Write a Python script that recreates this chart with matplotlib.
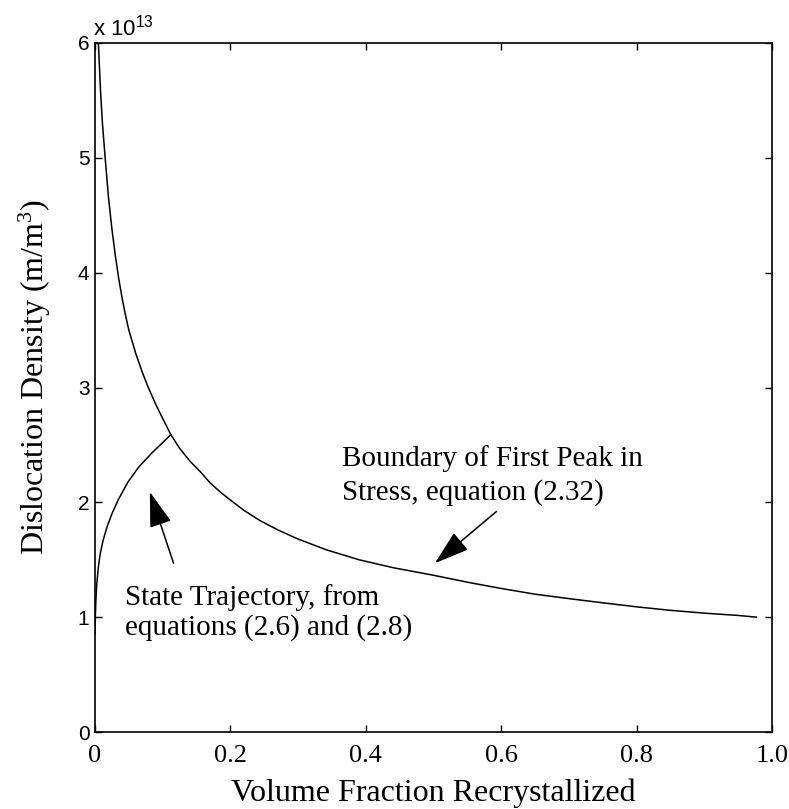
import matplotlib
matplotlib.use("Agg")
import matplotlib.pyplot as plt

plt.rcParams['mathtext.default'] = 'regular'

serif = 'Liberation Serif'
sans = 'Liberation Sans'

# boundary of first peak in stress (x = volume fraction, y in units of 1e13 m/m^3)
bound_x = [0.005, 0.008, 0.011, 0.015, 0.02, 0.025, 0.03, 0.035, 0.04, 0.045, 0.05, 0.06,
           0.07, 0.078, 0.09, 0.1, 0.112, 0.125, 0.14, 0.155, 0.17, 0.185, 0.2, 0.22,
           0.244, 0.27, 0.3, 0.342, 0.39, 0.441, 0.5, 0.554, 0.6, 0.65, 0.702, 0.75,
           0.8, 0.849, 0.9, 0.95, 0.977]
bound_y = [6.0, 5.6, 5.3, 5.0, 4.65, 4.38, 4.15, 3.95, 3.78, 3.63, 3.5, 3.3,
           3.13, 3.01, 2.85, 2.73, 2.59, 2.47, 2.36, 2.27, 2.17, 2.09, 2.02, 1.93,
           1.84, 1.76, 1.68, 1.586, 1.5, 1.43, 1.365, 1.30, 1.25, 1.2, 1.16, 1.125,
           1.09, 1.06, 1.035, 1.015, 1.0]

# state trajectory
traj_x = [0.0, 0.0005, 0.0012, 0.0025, 0.005, 0.008, 0.012, 0.018, 0.025, 0.035, 0.049,
          0.065, 0.084, 0.1, 0.112]
traj_y = [0.85, 1.0, 1.13, 1.28, 1.44, 1.56, 1.67, 1.79, 1.90, 2.03, 2.18,
          2.31, 2.43, 2.52, 2.59]

x_ticks = [0, 0.2, 0.4, 0.6, 0.8, 1.0]
x_labels = ['0', '0.2', '0.4', '0.6', '0.8', '1.0']
y_ticks = [0, 1, 2, 3, 4, 5, 6]
y_labels = ['0', '1', '2', '3', '4', '5', '6']

fig = plt.figure(figsize=(7.89, 8.09), dpi=100)
ax = fig.add_axes([95/789, 77/809, 677/789, 689/809])

ax.plot(bound_x, bound_y, color='k', lw=1.1)
ax.plot(traj_x, traj_y, color='k', lw=1.1)

ax.set_xlim(0, 1)
ax.set_ylim(0, 6)
ax.set_xticks(x_ticks)
ax.set_xticklabels(x_labels, fontfamily=serif, fontsize=19)
ax.set_yticks(y_ticks)
ax.set_yticklabels(y_labels, fontfamily=sans, fontsize=15)
ax.tick_params(direction='in', length=5, width=1, top=True, right=True)
ax.tick_params(axis='x', pad=9)
ax.tick_params(axis='y', pad=4)
for s in ax.spines.values():
    s.set_linewidth(1.2)

ax.text(-0.003, 1.003, r'x 10$^{13}$', transform=ax.transAxes, fontfamily=sans,
        fontsize=16, ha='left', va='bottom')

ax.set_xlabel('Volume Fraction Recrystallized', fontfamily=serif, fontsize=23)
ax.xaxis.set_label_coords(0.5, -0.068)
ax.set_ylabel(r'Dislocation Density (m/m$^3$)', fontfamily=serif, fontsize=23)
ax.yaxis.set_label_coords(-0.062, 0.515)

# annotations
ax.text(0.365, 2.316, 'Boundary of First Peak in', fontfamily=serif, fontsize=21, va='baseline')
ax.text(0.365, 2.02, 'Stress, equation (2.32)', fontfamily=serif, fontsize=21, va='baseline')
ax.text(0.044, 1.106, 'State Trajectory, from', fontfamily=serif, fontsize=21, va='baseline')
ax.text(0.044, 0.85, 'equations (2.6) and (2.8)', fontfamily=serif, fontsize=21, va='baseline')

arrow = dict(arrowstyle='-|>,head_length=1.1,head_width=0.35', color='k', lw=1.1,
             mutation_scale=20, shrinkA=0, shrinkB=0)
ax.annotate('', xy=(0.502, 1.47), xytext=(0.593, 1.92), arrowprops=arrow)
ax.annotate('', xy=(0.081, 2.09), xytext=(0.116, 1.47), arrowprops=arrow)

fig.savefig('out.png', dpi=100)
